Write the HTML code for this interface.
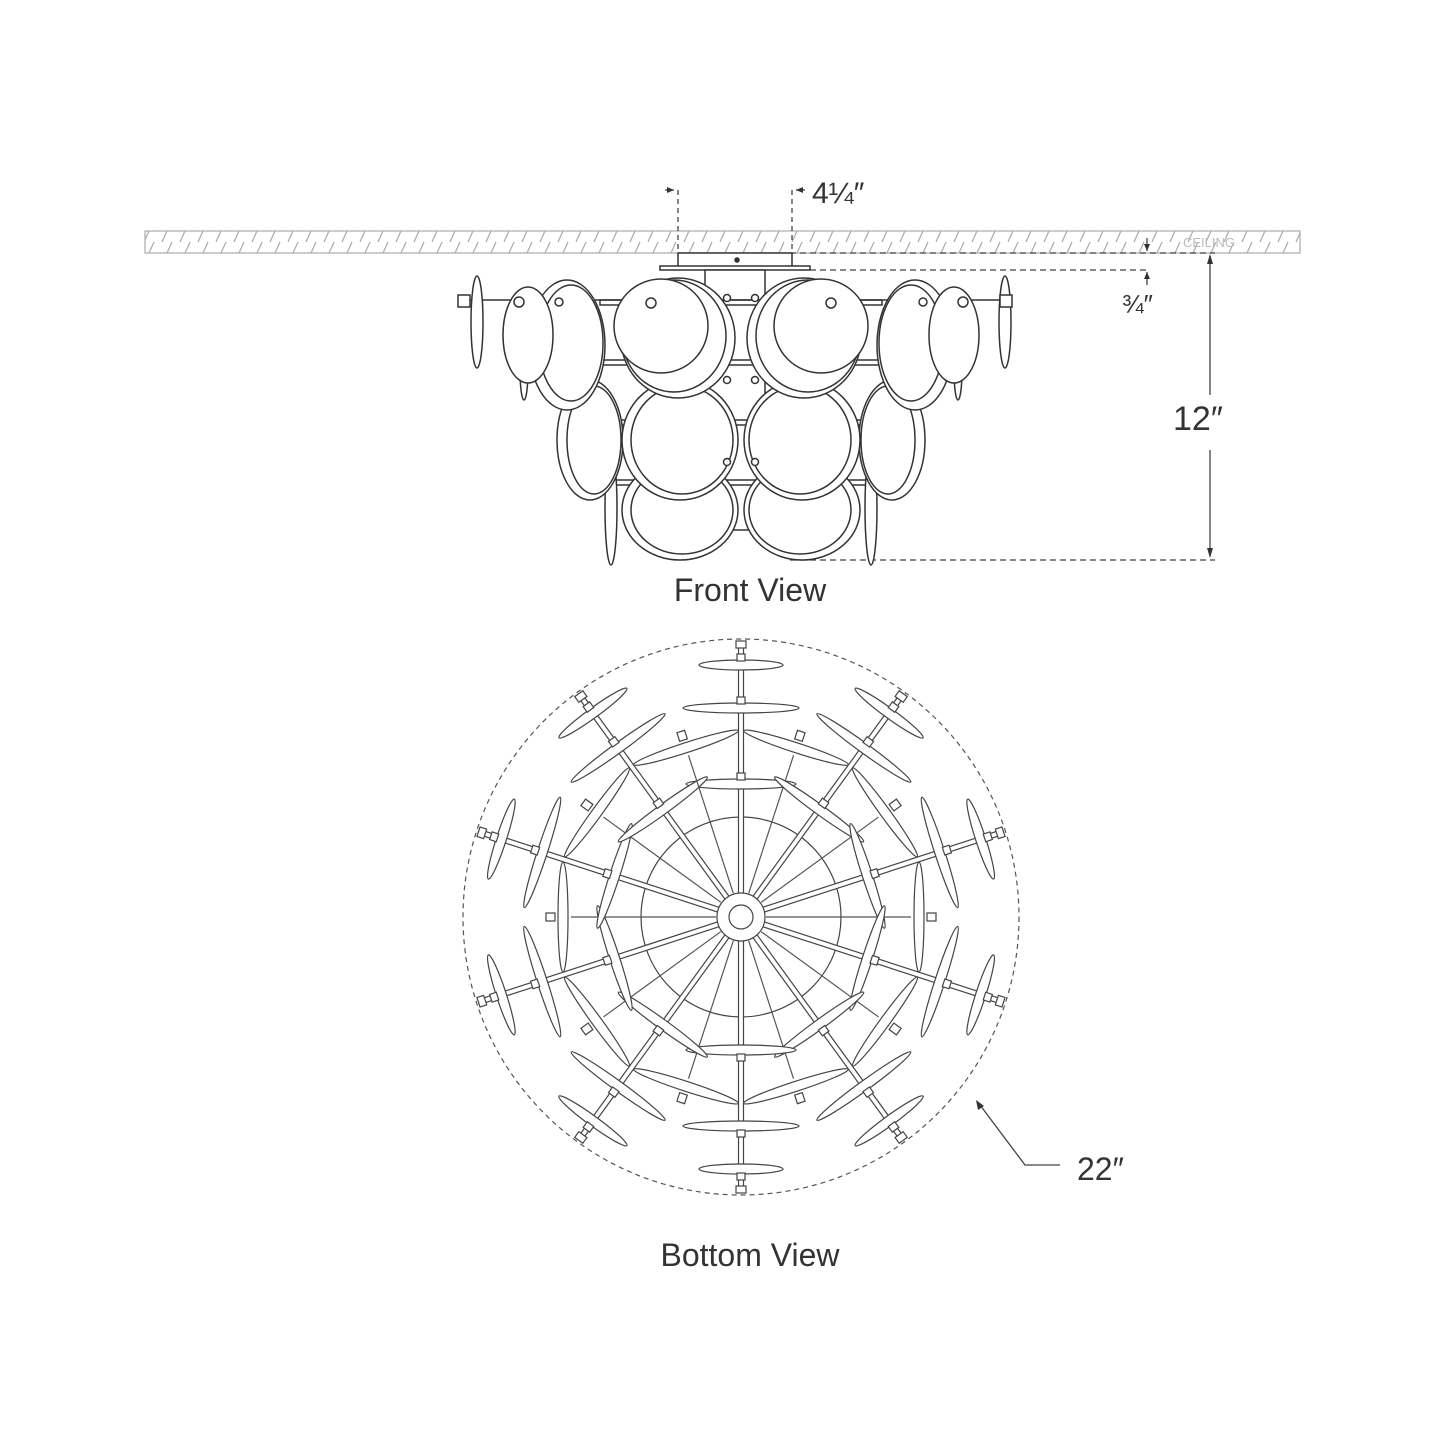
<!DOCTYPE html>
<html><head><meta charset="utf-8"><style>
html,body{margin:0;padding:0;background:#fff;}
svg{display:block;}
text{font-family:"Liberation Sans",sans-serif;fill:#333;}
</style></head><body>
<svg id="s" width="1445" height="1445" viewBox="0 0 1445 1445" xmlns="http://www.w3.org/2000/svg">
<defs>
<pattern id="h" width="18" height="22" patternUnits="userSpaceOnUse">
<line x1="0" y1="22" x2="10" y2="0" stroke="#aaa" stroke-width="1.2"/>
<line x1="18" y1="22" x2="28" y2="0" stroke="#aaa" stroke-width="1.2"/>
</pattern>
</defs>
<rect width="1445" height="1445" fill="#fff"/>
<!-- ceiling -->
<rect x="145" y="231" width="1155" height="22" fill="url(#h)" stroke="#aaa" stroke-width="1.2"/>
<text x="1183" y="247" font-size="13" style="fill:#bbb">CEILING</text>
<!-- dims top -->
<g stroke="#444" stroke-width="1.3" fill="none">
<line x1="678" y1="190" x2="678" y2="253" stroke-dasharray="5,4"/>
<line x1="792" y1="190" x2="792" y2="253" stroke-dasharray="5,4"/>
<line x1="665" y1="190" x2="674" y2="190"/>
<line x1="796" y1="190" x2="805" y2="190"/>
<line x1="800" y1="270" x2="1150" y2="270" stroke-dasharray="6,4"/>
<line x1="790" y1="253" x2="1215" y2="253" stroke-dasharray="6,4"/>
<line x1="790" y1="560" x2="1215" y2="560" stroke-dasharray="6,4"/>
<line x1="1210" y1="256" x2="1210" y2="395"/>
<line x1="1210" y1="450" x2="1210" y2="556"/>
<line x1="1147" y1="238" x2="1147" y2="251"/>
<line x1="1147" y1="272" x2="1147" y2="285"/>
</g>
<g fill="#333">
<polygon points="674,190 667,187 667,193"/><polygon points="796,190 803,187 803,193"/>
<polygon points="1210,254 1207,264 1213,264"/><polygon points="1210,558 1207,548 1213,548"/>
<polygon points="1147,251 1144,244 1150,244"/><polygon points="1147,272 1144,279 1150,279"/>
</g>
<text x="812" y="203" font-size="30">4¼″</text>
<text x="1122" y="313" font-size="26">¾″</text>
<text x="1173" y="430" font-size="34">12″</text>
<!-- front view -->
<g id="fv" stroke="#333" stroke-width="1.5" fill="#fff"></g>
<text x="750" y="601" font-size="32" text-anchor="middle">Front View</text>
<!-- bottom view -->
<circle cx="741" cy="917" r="278" fill="none" stroke="#555" stroke-width="1.2" stroke-dasharray="5,4"/>
<g id="bv" stroke="#444" stroke-width="1.2" fill="#fff"></g>
<g stroke="#444" stroke-width="1.3" fill="none"><polyline points="1060,1165 1025,1165 980,1105"/></g>
<polygon points="976,1100 978,1110 984,1106" fill="#333"/>
<text x="1077" y="1180" font-size="32">22″</text>
<text x="750" y="1266" font-size="32" text-anchor="middle">Bottom View</text>
</svg>
<script>
var NS="http://www.w3.org/2000/svg";
function el(p,t,a){var e=document.createElementNS(NS,t);for(var k in a)e.setAttribute(k,a[k]);p.appendChild(e);return e;}
var fv=document.getElementById('fv');
// canopy
el(fv,'rect',{x:678,y:253,width:114,height:15});
el(fv,'rect',{x:660,y:266,width:150,height:4});
el(fv,'circle',{cx:737,cy:260,r:2,fill:'#333'});
el(fv,'rect',{x:705,y:270,width:60,height:260});
// frame bars
[300,360,420,480].forEach(function(y){el(fv,'rect',{x:600,y:y,width:282,height:5});});
el(fv,'line',{x1:458,y1:300,x2:1010,y2:300});
function side(s){
 function X(x){return s<0?x:1482-x;}
 // thin farthest
 el(fv,'ellipse',{cx:X(477),cy:322,rx:6,ry:46});
 el(fv,'rect',{x:X(s<0?458:470)-(s<0?0:12),y:295,width:12,height:12});
 // bottom thin
 el(fv,'ellipse',{cx:X(611),cy:508,rx:6,ry:57});
 // second row side
 el(fv,'ellipse',{cx:X(590),cy:440,rx:33,ry:60});
 el(fv,'ellipse',{cx:X(594),cy:440,rx:27,ry:54});
 el(fv,'ellipse',{cx:X(524),cy:370,rx:4,ry:30});
 el(fv,'ellipse',{cx:X(567),cy:345,rx:38,ry:65});
 el(fv,'ellipse',{cx:X(571),cy:343,rx:32,ry:58});
 el(fv,'ellipse',{cx:X(528),cy:335,rx:25,ry:48});
 el(fv,'circle',{cx:X(519),cy:302,r:5});
 el(fv,'circle',{cx:X(559),cy:302,r:4});
 // big discs
 [[510,50],[440,60]].forEach(function(d){
  el(fv,'ellipse',{cx:X(680),cy:d[0],rx:58,ry:d[1]});
  el(fv,'ellipse',{cx:X(682),cy:d[0],rx:51,ry:d[1]-6});
 });
 el(fv,'ellipse',{cx:X(678),cy:338,rx:57,ry:60});
 el(fv,'ellipse',{cx:X(674),cy:336,rx:52,ry:56});
 el(fv,'circle',{cx:X(661),cy:326,r:47});
 el(fv,'circle',{cx:X(651),cy:303,r:5});
 el(fv,'circle',{cx:X(727),cy:298,r:3.5});
 el(fv,'circle',{cx:X(727),cy:380,r:3.5});
 el(fv,'circle',{cx:X(727),cy:462,r:3.5});
}
side(-1);side(1);
// bottom view
var bv=document.getElementById('bv');var C=[741,917];
function g(a){return el(bv,'g',{transform:'translate('+C[0]+','+C[1]+') rotate('+a+')'});}
el(bv,'circle',{cx:741,cy:917,r:100,fill:'none'});
for(var i=0;i<10;i++){
 var a=i*36;
 var q=g(a);
 el(q,'rect',{x:-2.5,y:-272,width:5,height:250});
 [[-252,42],[-209,58],[-133,55]].forEach(function(d){
  el(q,'ellipse',{cx:0,cy:d[0],rx:d[1],ry:5});
  el(q,'rect',{x:-4,y:d[0]-11,width:8,height:7});
 });
 el(q,'rect',{x:-5,y:-276,width:10,height:7});
 var q2=g(a+18);
 el(q2,'line',{x1:0,y1:-25,x2:0,y2:-170,stroke:'#555'});
 el(q2,'ellipse',{cx:0,cy:-178,rx:55,ry:5});
 el(q2,'rect',{x:-4,y:-195,width:8,height:9});
}
el(bv,'circle',{cx:741,cy:917,r:24});
el(bv,'circle',{cx:741,cy:917,r:12});
</script>
</body></html>
